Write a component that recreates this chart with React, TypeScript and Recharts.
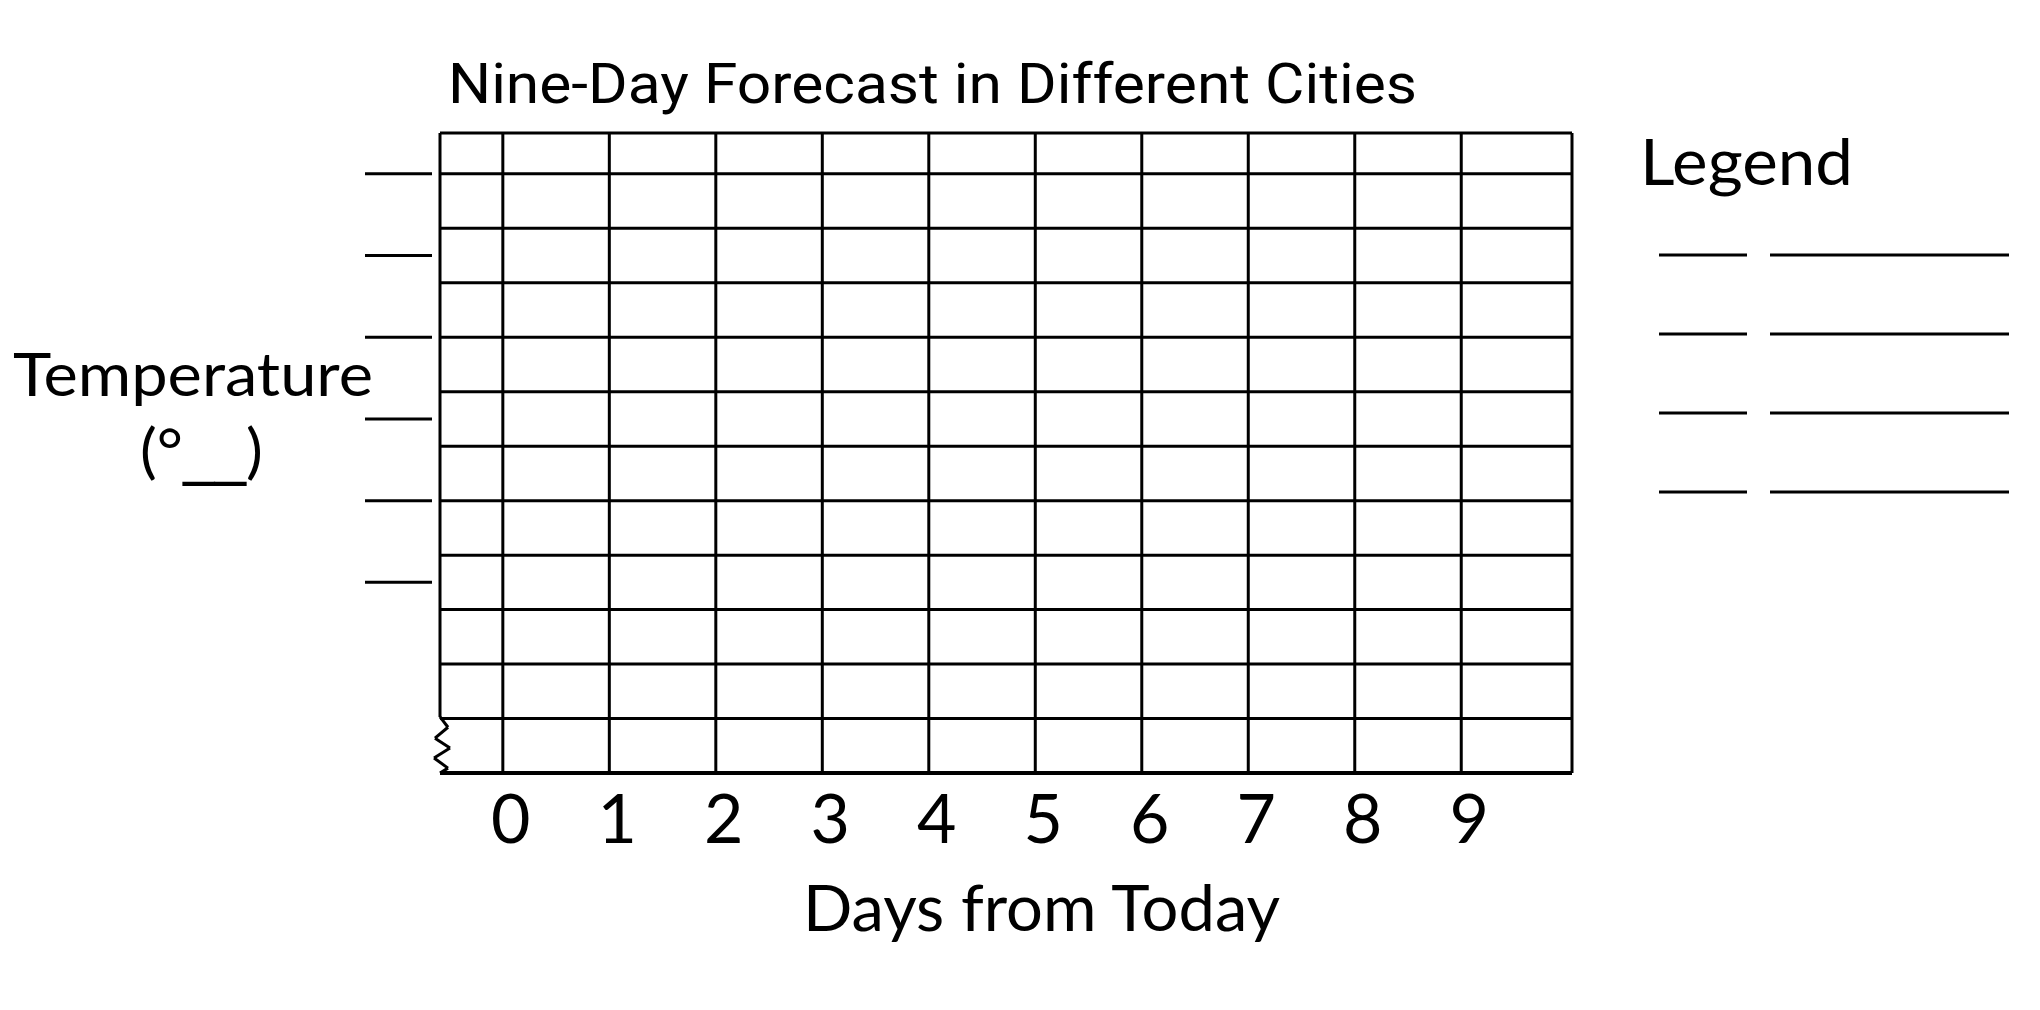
import React from 'react';
import { ComposedChart, XAxis, YAxis, ReferenceLine } from 'recharts';

// blank nine-day forecast template: the grid is drawn, the values are left for the reader
const DAYS = [0, 1, 2, 3, 4, 5, 6, 7, 8, 9];
const GRID_ROWS = [1, 2, 3, 4, 5, 6, 7, 8, 9, 10, 11];
const TEMP_BLANKS = [11, 9.5, 8, 6.5, 5, 3.5];
const LEGEND_BLANKS = [0, 1, 2, 3];
const X_DOMAIN: [number, number] = [-0.59, 10.04];
const Y_DOMAIN: [number, number] = [0, 11.75];

// axis-break zigzag at the foot of the temperature axis
const BREAK_X = [-0.59, -0.515, -0.637, -0.496, -0.646, -0.515, -0.59];
const BREAK_Y = [1.03, 0.84, 0.64, 0.46, 0.275, 0.09, 0];

const INK = '#000';
const LINE_W = 3;
const SANS = 'Lato, "Open Sans", sans-serif';

const chartData = DAYS.map(day => ({ day }));

const DayTick = (props: any) => {
  const { x, y, payload } = props;
  return (
    <text
      x={x + 8}
      y={y}
      dy={70}
      textAnchor='middle'
      fontFamily={SANS}
      fontSize={68}
      fill={INK}
    >
      {payload.value}
    </text>
  );
};

// the temperature scale is left as fill-in blanks
const BlankTick = (props: any) => {
  const { x, y } = props;
  return <line x1={x - 75} x2={x - 8} y1={y} y2={y} stroke={INK} strokeWidth={LINE_W} />;
};

const App = () => {
  return (
    <div
      style={{
        position: 'absolute',
        left: 0,
        top: 0,
        width: 2040,
        height: 1010,
        background: '#fff',
      }}
    >
      <ComposedChart
        width={2040}
        height={1010}
        data={chartData}
        margin={{ top: 133, right: 468, bottom: 0, left: 0 }}
      >
        <XAxis
          dataKey='day'
          type='number'
          domain={X_DOMAIN}
          ticks={DAYS}
          allowDataOverflow
          height={237}
          tickSize={0}
          tickMargin={0}
          axisLine={false}
          tickLine={false}
          tick={<DayTick />}
        />
        <YAxis
          type='number'
          domain={Y_DOMAIN}
          ticks={TEMP_BLANKS}
          allowDataOverflow
          width={440}
          tickSize={0}
          tickMargin={0}
          axisLine={false}
          tickLine={false}
          tick={<BlankTick />}
        />

        {/* horizontal rules */}
        {GRID_ROWS.map(row => (
          <ReferenceLine
            key={`row-${row}`}
            y={row}
            stroke={INK}
            strokeWidth={LINE_W}
          />
        ))}

        {/* one vertical rule per day */}
        {DAYS.map(day => (
          <ReferenceLine
            key={`day-${day}`}
            x={day}
            stroke={INK}
            strokeWidth={LINE_W}
          />
        ))}

        {/* frame */}
        <ReferenceLine y={Y_DOMAIN[0]} stroke={INK} strokeWidth={LINE_W + 1} />
        <ReferenceLine y={Y_DOMAIN[1]} stroke={INK} strokeWidth={LINE_W} />
        <ReferenceLine x={X_DOMAIN[1]} stroke={INK} strokeWidth={LINE_W} />
        <ReferenceLine
          segment={[
            { x: X_DOMAIN[0], y: 1.03 },
            { x: X_DOMAIN[0], y: Y_DOMAIN[1] },
          ]}
          stroke={INK}
          strokeWidth={LINE_W}
        />
        {BREAK_X.slice(1).map((bx, i) => (
          <ReferenceLine
            key={`break-${i}`}
            segment={[
              { x: BREAK_X[i], y: BREAK_Y[i] },
              { x: bx, y: BREAK_Y[i + 1] },
            ]}
            ifOverflow='visible'
            stroke={INK}
            strokeWidth={LINE_W}
          />
        ))}

        <text
          x={448}
          y={103}
          fontFamily='Roboto, sans-serif'
          fontWeight={400}
          fontSize={56}
          textLength={969}
          lengthAdjust='spacingAndGlyphs'
          fill={INK}
        >
          Nine-Day Forecast in Different Cities
        </text>

        <text
          x={13}
          y={396}
          fontFamily={SANS}
          fontSize={60}
          textLength={360}
          lengthAdjust='spacingAndGlyphs'
          fill={INK}
        >
          Temperature
        </text>
        <text
          x={140}
          y={472}
          fontFamily={SANS}
          fontSize={60}
          textLength={123}
          lengthAdjust='spacingAndGlyphs'
          fill={INK}
        >
          (°<tspan fontFamily='"DejaVu Sans", sans-serif'>__</tspan>)
        </text>

        <text
          x={803}
          y={931}
          fontFamily={SANS}
          fontSize={64}
          textLength={477}
          lengthAdjust='spacingAndGlyphs'
          fill={INK}
        >
          Days from Today
        </text>

        <text
          x={1640}
          y={185}
          fontFamily={SANS}
          fontSize={63}
          textLength={213}
          lengthAdjust='spacingAndGlyphs'
          fill={INK}
        >
          Legend
        </text>
        {LEGEND_BLANKS.map(i => {
          const y = 255 + i * 79;
          return (
            <g key={`legend-${i}`}>
              <line x1={1659} x2={1747} y1={y} y2={y} stroke={INK} strokeWidth={LINE_W} />
              <line x1={1770} x2={2009} y1={y} y2={y} stroke={INK} strokeWidth={LINE_W} />
            </g>
          );
        })}
      </ComposedChart>
    </div>
  );
};

export default App;
